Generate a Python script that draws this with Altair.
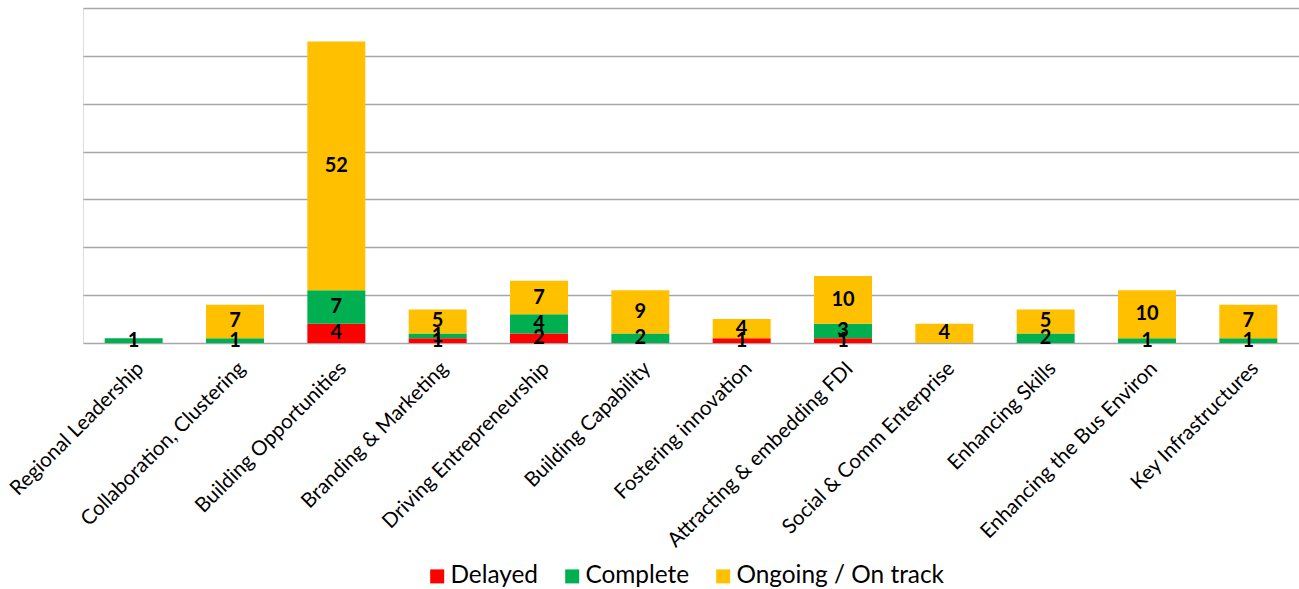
import altair as alt
import pandas as pd

categories = [
    "Regional Leadership", "Collaboration, Clustering", "Building Opportunities",
    "Branding & Marketing", "Driving Entrepreneurship", "Building Capability",
    "Fostering innovation", "Attracting & embedding FDI", "Social & Comm Enterprise",
    "Enhancing Skills", "Enhancing the Bus Environ", "Key Infrastructures",
]
delayed = [0, 0, 4, 1, 2, 0, 1, 1, 0, 0, 0, 0]
complete = [1, 1, 7, 1, 4, 2, 0, 3, 0, 2, 1, 1]
ongoing = [0, 7, 52, 5, 7, 9, 4, 10, 4, 5, 10, 7]
series = ["Delayed", "Complete", "Ongoing / On track"]
colors = ["#FF0000", "#00B050", "#FFC000"]

rows = []
for i, c in enumerate(categories):
    for k, (s, vals) in enumerate(zip(series, [delayed, complete, ongoing])):
        rows.append({"cat": c, "series": s, "value": vals[i], "ord": k})
df = pd.DataFrame(rows)

FONT = "Lato"

base = alt.Chart(df).transform_stack(
    stack="value", groupby=["cat"], as_=["y0", "y1"],
    sort=[alt.SortField("ord", order="ascending")]
).transform_calculate(mid="(datum.y0 + datum.y1) / 2")

xenc = alt.X("cat:N", sort=categories, title=None,
             scale=alt.Scale(paddingInner=0.428, paddingOuter=0.214),
             axis=alt.Axis(labelAngle=-45, labelFontSize=20.5, labelFont=FONT,
                           labelColor="#000000", ticks=False, domain=False,
                           labelPadding=15, labelLimit=400))

bars = base.mark_bar().encode(
    x=xenc,
    y=alt.Y("y0:Q", title=None, scale=alt.Scale(domain=[0, 70], nice=False),
            axis=alt.Axis(values=list(range(0, 80, 10)), labels=False, ticks=False,
                          domain=False, grid=True, gridColor="#a6a6a6", gridWidth=1.5)),
    y2="y1:Q",
    color=alt.Color("series:N", scale=alt.Scale(domain=series, range=colors),
                    legend=alt.Legend(orient="none", legendX=342, legendY=556,
                                      direction="horizontal", title=None,
                                      symbolType="square", symbolSize=196,
                                      symbolStrokeWidth=0, labelFontSize=24.4,
                                      labelFont=FONT, labelColor="#000000",
                                      labelLimit=400,
                                      columnPadding=21, labelOffset=1)),
)

texts = base.transform_filter("datum.value > 0").mark_text(
    fontSize=20, fontWeight="bold", font=FONT, color="#000000", baseline="middle"
).encode(
    x=alt.X("cat:N", sort=categories),
    y=alt.Y("mid:Q"),
    text="value:Q",
)

chart = alt.layer(bars, texts).properties(
    width=1216, height=335,
    autosize=alt.AutoSizeParams(type="none"),
    padding={"left": 83, "top": 8, "right": 0, "bottom": 246},
).configure_view(stroke=None).configure(background="white")

chart.save("out.html", embed_options={"renderer": "svg", "actions": False})
